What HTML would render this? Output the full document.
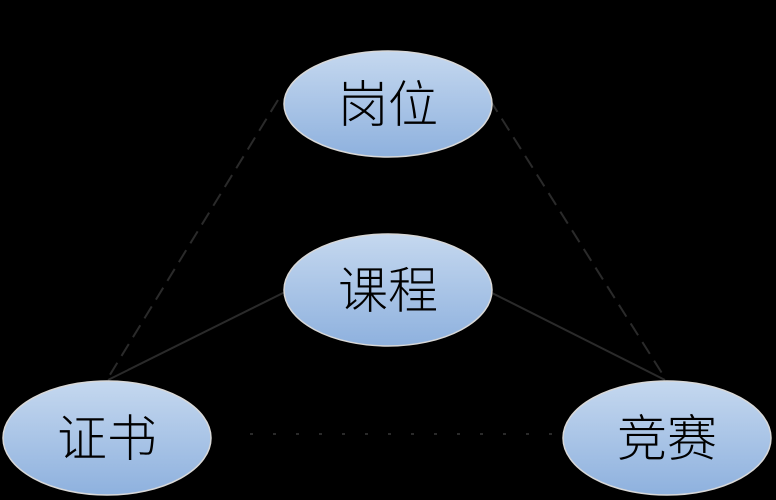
<!DOCTYPE html>
<html><head><meta charset="utf-8"><style>
html,body{margin:0;padding:0;background:#000;width:776px;height:500px;overflow:hidden}
text{font-family:"Liberation Sans","Noto Sans CJK SC",sans-serif;font-size:50px;font-weight:300;fill:#000}
</style></head><body>
<svg width="776" height="500" viewBox="0 0 776 500">
<defs>
<linearGradient id="g" x1="0" y1="0" x2="0" y2="1">
<stop offset="0" stop-color="#c5d8ef"/><stop offset="1" stop-color="#8eb1de"/>
</linearGradient>
</defs>
<g stroke="#2a2a2a" stroke-width="2" fill="none">
<line x1="278" y1="100" x2="108" y2="378" stroke-dasharray="14,8"/>
<line x1="490" y1="100" x2="665" y2="378" stroke-dasharray="14,8"/>
<line x1="285" y1="292" x2="108" y2="380"/>
<line x1="490" y1="292" x2="665" y2="380"/>
<line x1="250" y1="434" x2="560" y2="434" stroke-dasharray="3,20"/>
</g>
<g fill="url(#g)" stroke="#d8d8d8" stroke-width="1.5">
<ellipse cx="388" cy="104" rx="104" ry="53"/>
<ellipse cx="388" cy="290" rx="104" ry="56"/>
<ellipse cx="107" cy="438" rx="104" ry="57"/>
<ellipse cx="667" cy="438" rx="104" ry="57"/>
</g>
<g text-anchor="middle">
<text x="388" y="122">岗位</text>
<text x="388" y="308">课程</text>
<text x="107" y="456">证书</text>
<text x="667" y="456">竞赛</text>
</g>
</svg>
</body></html>
